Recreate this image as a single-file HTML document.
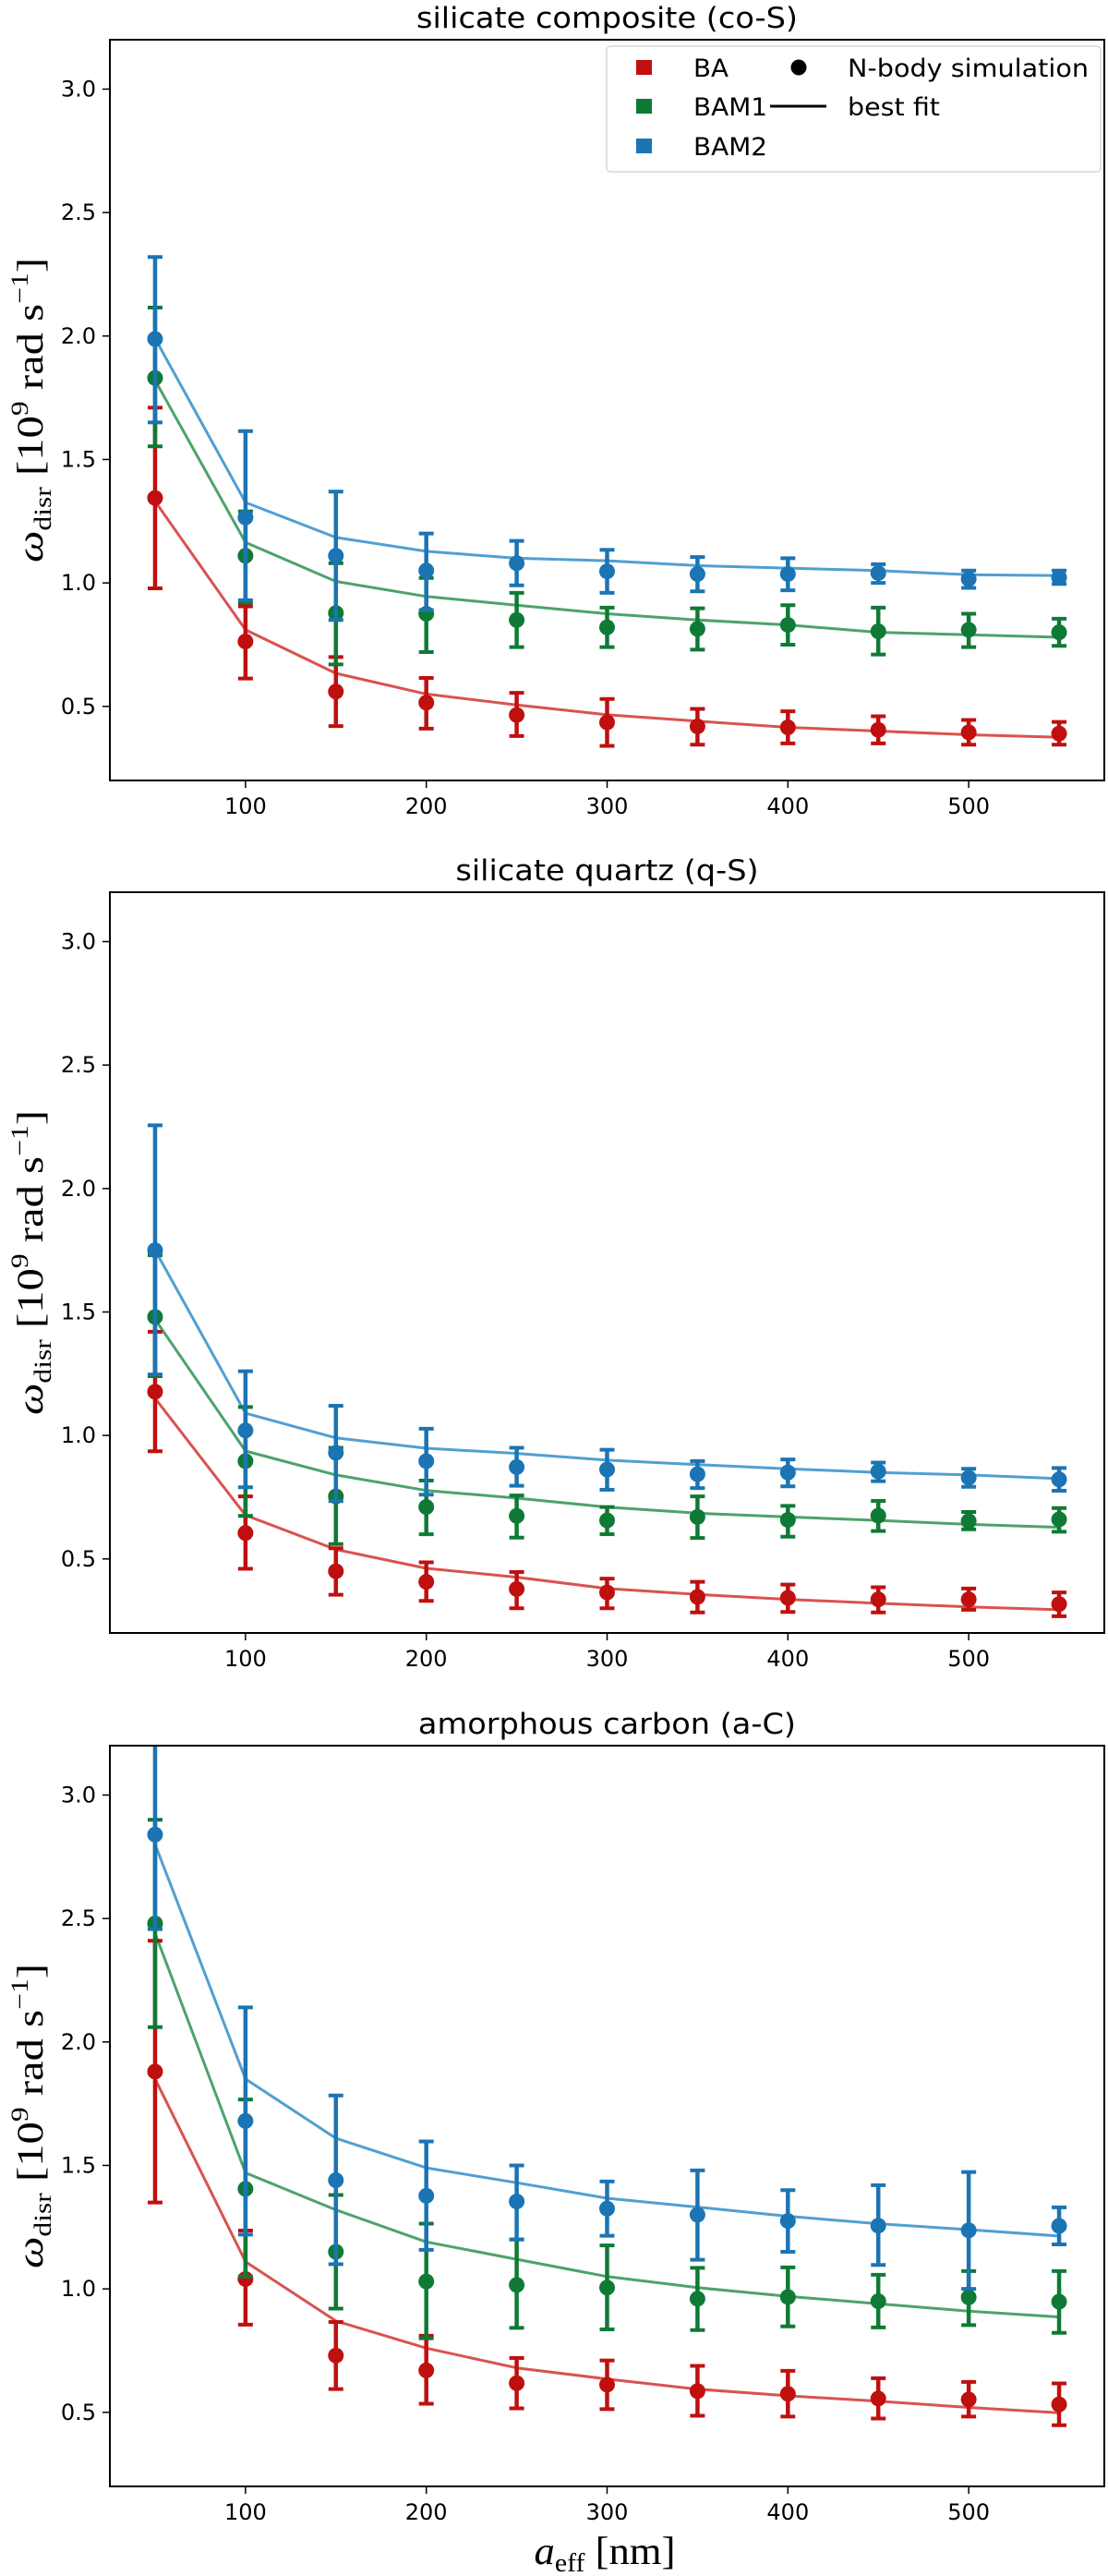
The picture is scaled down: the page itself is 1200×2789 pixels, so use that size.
<!DOCTYPE html>
<html><head><meta charset="utf-8"><style>
html,body{margin:0;padding:0;background:#fff;}
svg{display:block;}
text{font-family:"DejaVu Sans","Liberation Sans",sans-serif;}
.serif{font-family:"Liberation Serif","DejaVu Serif",serif;}
</style></head>
<body>
<svg id="fig" width="1200" height="2789" viewBox="0 0 1200 2789" xmlns="http://www.w3.org/2000/svg"></svg>
<script>
const sizes = [50,100,150,200,250,300,350,400,450,500,550];
const xTicks = [100,200,300,400,500];
const yTicks = [0.5,1.0,1.5,2.0,2.5,3.0];
const panelTitles = ["silicate composite (co-S)","silicate quartz (q-S)","amorphous carbon (a-C)"];
const seriesNames = ["BA","BAM1","BAM2"];

// Panel 1: silicate composite
const coS_BA_val = [1.344,0.763,0.56,0.515,0.465,0.435,0.419,0.415,0.405,0.395,0.39];
const coS_BA_hi  = [1.71,0.905,0.70,0.615,0.555,0.53,0.49,0.48,0.46,0.445,0.437];
const coS_BA_lo  = [0.978,0.613,0.42,0.41,0.38,0.34,0.345,0.35,0.35,0.345,0.345];
const coS_BA_fit = [1.33,0.81,0.634,0.55,0.506,0.466,0.44,0.415,0.40,0.385,0.375];
const coS_BAM1_val = [1.83,1.11,0.878,0.875,0.85,0.82,0.814,0.83,0.804,0.81,0.80];
const coS_BAM1_hi  = [2.115,1.29,1.08,1.02,0.96,0.90,0.897,0.91,0.90,0.875,0.855];
const coS_BAM1_lo  = [1.553,0.92,0.67,0.72,0.74,0.74,0.73,0.75,0.71,0.74,0.745];
const coS_BAM1_fit = [1.82,1.164,1.006,0.945,0.91,0.875,0.85,0.83,0.80,0.79,0.78];
const coS_BAM2_val = [1.988,1.265,1.11,1.05,1.08,1.047,1.036,1.036,1.04,1.016,1.022];
const coS_BAM2_hi  = [2.32,1.615,1.37,1.20,1.17,1.134,1.105,1.10,1.076,1.05,1.05];
const coS_BAM2_lo  = [1.65,0.93,0.85,0.89,0.99,0.96,0.966,0.97,1.0,0.98,0.996];
const coS_BAM2_fit = [1.99,1.326,1.184,1.128,1.10,1.09,1.07,1.06,1.05,1.033,1.03];

// Panel 2: silicate quartz
const qS_BA_val = [1.177,0.605,0.45,0.407,0.378,0.364,0.346,0.342,0.336,0.336,0.317];
const qS_BA_hi  = [1.42,0.753,0.543,0.486,0.447,0.42,0.407,0.396,0.385,0.38,0.364];
const qS_BA_lo  = [0.936,0.46,0.355,0.33,0.30,0.30,0.283,0.285,0.283,0.294,0.268];
const qS_BA_fit = [1.15,0.677,0.538,0.462,0.426,0.38,0.356,0.336,0.32,0.306,0.294];
const qS_BAM1_val = [1.48,0.896,0.753,0.71,0.674,0.656,0.67,0.658,0.675,0.653,0.66];
const qS_BAM1_hi  = [1.73,1.115,0.95,0.817,0.757,0.71,0.753,0.715,0.735,0.69,0.706];
const qS_BAM1_lo  = [1.24,0.674,0.56,0.60,0.586,0.60,0.585,0.59,0.613,0.62,0.61];
const qS_BAM1_fit = [1.47,0.937,0.84,0.777,0.746,0.71,0.685,0.67,0.656,0.64,0.628];
const qS_BAM2_val = [1.75,1.02,0.93,0.896,0.872,0.862,0.843,0.85,0.854,0.829,0.822];
const qS_BAM2_hi  = [2.256,1.26,1.12,1.027,0.95,0.942,0.896,0.903,0.89,0.865,0.868];
const qS_BAM2_lo  = [1.247,0.79,0.734,0.76,0.796,0.78,0.787,0.794,0.815,0.792,0.776];
const qS_BAM2_fit = [1.75,1.09,0.99,0.948,0.927,0.90,0.882,0.865,0.85,0.84,0.825];

// Panel 3: amorphous carbon
const aC_BA_val = [1.88,1.04,0.73,0.67,0.618,0.612,0.586,0.575,0.556,0.552,0.532];
const aC_BA_hi  = [2.41,1.236,0.866,0.81,0.72,0.71,0.688,0.668,0.638,0.623,0.617];
const aC_BA_lo  = [1.35,0.855,0.594,0.535,0.516,0.513,0.486,0.483,0.475,0.483,0.448];
const aC_BA_fit = [1.85,1.11,0.87,0.76,0.68,0.635,0.594,0.567,0.545,0.52,0.498];
const aC_BAM1_val = [2.48,1.405,1.15,1.03,1.016,1.005,0.96,0.967,0.95,0.966,0.948];
const aC_BAM1_hi  = [2.90,1.767,1.38,1.264,1.20,1.176,1.085,1.087,1.057,1.072,1.072];
const aC_BAM1_lo  = [2.06,1.05,0.92,0.80,0.842,0.836,0.833,0.848,0.844,0.853,0.822];
const aC_BAM1_fit = [2.44,1.47,1.32,1.19,1.12,1.05,1.005,0.97,0.94,0.91,0.886];
const aC_BAM2_val = [2.84,1.68,1.44,1.377,1.354,1.325,1.30,1.275,1.256,1.237,1.255];
const aC_BAM2_hi  = [3.25,2.14,1.783,1.597,1.50,1.435,1.48,1.40,1.42,1.473,1.33];
const aC_BAM2_lo  = [2.457,1.22,1.10,1.158,1.20,1.215,1.118,1.15,1.097,1.0,1.18];
const aC_BAM2_fit = [2.80,1.85,1.61,1.49,1.43,1.367,1.331,1.294,1.264,1.24,1.214];

const panelData = [
  [[coS_BA_val,coS_BA_hi,coS_BA_lo,coS_BA_fit],[coS_BAM1_val,coS_BAM1_hi,coS_BAM1_lo,coS_BAM1_fit],[coS_BAM2_val,coS_BAM2_hi,coS_BAM2_lo,coS_BAM2_fit]],
  [[qS_BA_val,qS_BA_hi,qS_BA_lo,qS_BA_fit],[qS_BAM1_val,qS_BAM1_hi,qS_BAM1_lo,qS_BAM1_fit],[qS_BAM2_val,qS_BAM2_hi,qS_BAM2_lo,qS_BAM2_fit]],
  [[aC_BA_val,aC_BA_hi,aC_BA_lo,aC_BA_fit],[aC_BAM1_val,aC_BAM1_hi,aC_BAM1_lo,aC_BAM1_fit],[aC_BAM2_val,aC_BAM2_hi,aC_BAM2_lo,aC_BAM2_fit]]
];

const markerColors = ["#c00f0f","#0f7a35","#1b74b3"];
const lineColors = ["#d9534f","#4ea26c","#519fd2"];
const panelTops = [43,966,1890];
const titleWidths = [413,290,350];
const L = 119, R = 1196, H = 802;
const xMin = 25, xMax = 575, yMin = 0.2, yMax = 3.2;
const NS = "http://www.w3.org/2000/svg";
const svg = document.getElementById("fig");

function xs(v){ return L + (v - xMin) / (xMax - xMin) * (R - L); }
function mk(tag, attrs, parent){
  const e = document.createElementNS(NS, tag);
  for (const k in attrs) e.setAttribute(k, attrs[k]);
  (parent || svg).appendChild(e);
  return e;
}

panelData.forEach((series, pi) => {
  const top = panelTops[pi], bot = top + H;
  const ys = v => bot - (v - yMin) / (yMax - yMin) * H;
  const g = mk("g", {});
  
  
  const clipId = "clip" + pi;
  const cp = mk("clipPath", {id: clipId}, g);
  mk("rect", {x: L, y: top, width: R - L, height: H}, cp);

  const title = mk("text", {x: (L+R)/2, y: top - 13, "text-anchor": "middle", "font-size": 31, fill: "#000"}, g);
  title.textContent = panelTitles[pi];
  
  
  // stretch to reference width proportionally
  const w = title.getComputedTextLength();
  const target = (pi === 0) ? 413 : w * 413 / 0 || w;
  if (pi === 0) { svg.dataset.titleScale = 413 / w; }
  const sc = parseFloat(svg.dataset.titleScale || "1");
  title.setAttribute("textLength", (w * sc).toFixed(1));
  title.setAttribute("lengthAdjust", "spacingAndGlyphs");

  const plot = mk("g", {"clip-path": "url(#" + clipId + ")"}, g);
  series.forEach((s, si) => {
    const [val, hi, lo, fit] = s;
    const pts = sizes.map((x, i) => xs(x).toFixed(1) + "," + ys(fit[i]).toFixed(1)).join(" ");
    const pl = mk("polyline", {points: pts, fill: "none", stroke: lineColors[si], "stroke-width": 3, "stroke-linejoin": "round"}, plot);
    
    
  });
  series.forEach((s, si) => {
    const [val, hi, lo, fit] = s;
    sizes.forEach((x, i) => {
      const px = xs(x);
      const eg = mk("g", {stroke: markerColors[si], fill: markerColors[si]}, plot);
      
      
      mk("line", {x1: px, x2: px, y1: ys(hi[i]), y2: ys(lo[i]), "stroke-width": 4.5}, eg);
      mk("line", {x1: px-8, x2: px+8, y1: ys(hi[i]), y2: ys(hi[i]), "stroke-width": 4}, eg);
      mk("line", {x1: px-8, x2: px+8, y1: ys(lo[i]), y2: ys(lo[i]), "stroke-width": 4}, eg);
      mk("circle", {cx: px, cy: ys(val[i]), r: 8.5, stroke: "none"}, eg);
    });
  });

  const frame = mk("rect", {x: L, y: top, width: R - L, height: H, fill: "none", stroke: "#000", "stroke-width": 2}, g);
  
  

  xTicks.forEach(t => {
    mk("line", {x1: xs(t), x2: xs(t), y1: bot, y2: bot + 8, stroke: "#000", "stroke-width": 1.5}, g);
    const tl = mk("text", {x: xs(t), y: bot + 36, "text-anchor": "middle", "font-size": 24, fill: "#000"}, g);
    tl.textContent = t;
    
    
  });
  yTicks.forEach(t => {
    mk("line", {x1: L - 8, x2: L, y1: ys(t), y2: ys(t), stroke: "#000", "stroke-width": 1.5}, g);
    const tl = mk("text", {x: L - 15, y: ys(t) + 8, "text-anchor": "end", "font-size": 24, fill: "#000"}, g);
    tl.textContent = t.toFixed(1);
    
    
  });

  const cy = (top + bot) / 2;
  const yl = mk("text", {x: 0, y: 0, transform: "translate(46," + cy + ") rotate(-90)", "text-anchor": "middle", "font-size": 40, fill: "#000", class: "serif", textLength: 330, lengthAdjust: "spacingAndGlyphs"}, g);
  yl.innerHTML = '<tspan font-style="italic">ω</tspan><tspan font-size="26" dy="9">disr</tspan><tspan dy="-9"> [10</tspan><tspan font-size="26" dy="-16">9</tspan><tspan dy="16"> rad s</tspan><tspan font-size="26" dy="-16">−1</tspan><tspan dy="16">]</tspan>';
  
  
});

// x-axis label
const xl = mk("text", {x: 655, y: 2776, "text-anchor": "middle", "font-size": 42, fill: "#000", class: "serif", textLength: 153, lengthAdjust: "spacingAndGlyphs"});
xl.innerHTML = '<tspan font-style="italic">a</tspan><tspan font-size="28" dy="8">eff</tspan><tspan dy="-8"> [nm]</tspan>';



// legend
const lg = mk("g", {});


mk("rect", {x: 657, y: 50, width: 535, height: 136, rx: 4, fill: "#fff", stroke: "#d8d8d8", "stroke-width": 1.5, "fill-opacity": 0.85}, lg);
const rowsY = [73, 115, 158];
const legendWidths = [38, 80, 80];
seriesNames.forEach((n, i) => {
  const e = mk("g", {}, lg);
  
  
  mk("rect", {x: 689, y: rowsY[i] - 8, width: 17, height: 16, fill: markerColors[i]}, e);
  const t = mk("text", {x: 751, y: rowsY[i] + 10, "font-size": 27, fill: "#000", textLength: legendWidths[i], lengthAdjust: "spacingAndGlyphs"}, e);
  t.textContent = n;
});
const e1 = mk("g", {}, lg);


mk("circle", {cx: 865, cy: rowsY[0], r: 8.5, fill: "#000"}, e1);
const t1 = mk("text", {x: 918, y: rowsY[0] + 10, "font-size": 27, fill: "#000", textLength: 261, lengthAdjust: "spacingAndGlyphs"}, e1);
t1.textContent = "N-body simulation";
const e2 = mk("g", {}, lg);


mk("line", {x1: 834, x2: 895, y1: rowsY[1], y2: rowsY[1], stroke: "#000", "stroke-width": 3}, e2);
const t2 = mk("text", {x: 918, y: rowsY[1] + 10, "font-size": 27, fill: "#000", textLength: 100, lengthAdjust: "spacingAndGlyphs"}, e2);
t2.textContent = "best fit";
</script>
</body></html>
